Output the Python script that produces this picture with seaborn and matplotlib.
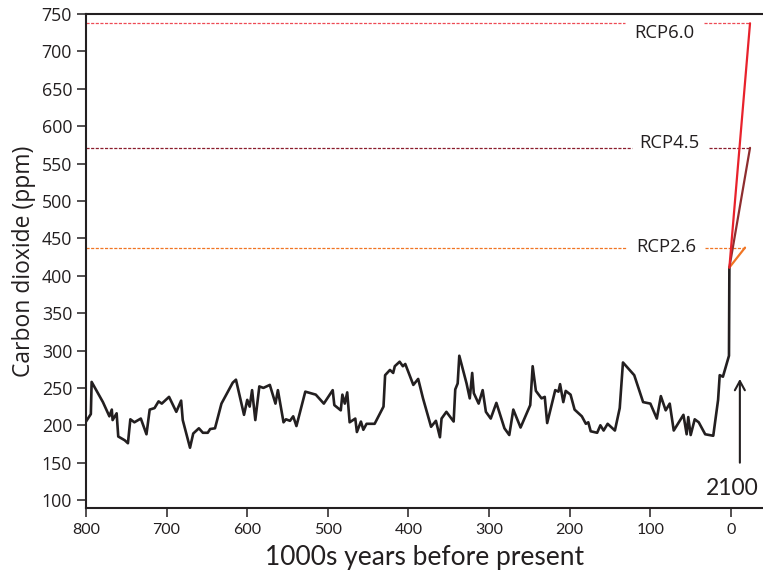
import numpy as np
import pandas as pd
import matplotlib
matplotlib.use("Agg")
import matplotlib.pyplot as plt
import seaborn as sns

# ---------------- data ----------------
kyr_bp = [800, 794, 793, 779, 771, 768, 767, 762, 760, 752, 748, 745, 740, 732, 725, 721,
          715, 710, 706, 697, 688, 682, 680, 671, 667, 660, 655, 649, 646, 640, 632, 618,
          614, 604, 600, 597, 594, 590, 585, 580, 572, 565, 562, 555, 552, 547, 543, 539,
          528, 515, 505, 494, 492, 484, 482, 479, 476, 473, 466, 464, 459, 456, 452, 442,
          431, 429, 423, 419, 417, 411, 407, 404, 394, 388, 382, 372, 366, 361, 359, 353,
          344, 342, 339, 337, 328, 324, 321, 319, 313, 308, 304, 298, 291, 281, 275, 270,
          261, 249, 246, 242, 235, 231, 228, 218, 214, 212, 208, 205, 199, 194, 185, 180,
          177, 174, 166, 162, 158, 153, 144, 138, 134, 120, 109, 100, 92, 87, 81, 76,
          71, 59, 55, 53, 50, 45, 40, 32, 22, 16, 14, 10, 2.5, 2]
co2_ppm = [205, 215, 258, 231, 212, 221, 207, 216, 185, 180, 176, 208, 204, 209, 188, 221,
           223, 232, 229, 238, 218, 233, 207, 170, 189, 196, 190, 190, 195, 196, 229, 257,
           261, 214, 234, 225, 247, 207, 252, 250, 254, 229, 247, 204, 208, 206, 212, 199,
           245, 241, 229, 247, 227, 220, 241, 229, 244, 204, 209, 191, 205, 194, 202, 202,
           225, 267, 274, 270, 279, 285, 279, 282, 254, 262, 236, 198, 206, 184, 209, 218,
           205, 248, 256, 293, 256, 236, 270, 243, 229, 247, 218, 209, 230, 196, 187, 221,
           197, 227, 279, 246, 236, 238, 203, 247, 245, 255, 231, 246, 241, 221, 212, 202,
           204, 192, 190, 200, 193, 202, 193, 223, 284, 267, 231, 229, 209, 239, 220, 229,
           193, 214, 188, 211, 187, 208, 204, 188, 186, 234, 267, 265, 293, 411]

scenarios = ["RCP2.6", "RCP4.5", "RCP6.0"]
scenario_start_x = 2
scenario_start_y = 411
scenario_end_x = [-17.4, -23.6, -23.6]
scenario_end_y = [437.6, 571, 737.6]
scenario_colors = ["#F07524", "#8E2D2F", "#E8222C"]
dash_colors = ["#F07524", "#8A1C2C", "#EE4A55"]

y_ticks = [100, 150, 200, 250, 300, 350, 400, 450, 500, 550, 600, 650, 700, 750]
x_ticks = [800, 700, 600, 500, 400, 300, 200, 100, 0]

# ---------------- layout constants ----------------
dash_gap_left = [129, 122.8, 131.5]
dash_gap_right = [32.3, 27.3, 33.5]
label_x = [80.6, 76.9, 83.1]
label_y = [439, 577, 724.6]

TXT = "#231F20"
SANS = ["Open Sans", "DejaVu Sans"]
HUM = ["Lato", "DejaVu Sans"]

sns.set_theme(style="white")
plt.rcParams["font.family"] = SANS

fig = plt.figure(figsize=(7.63, 5.80), dpi=100)
ax = fig.add_axes([86 / 763, (580 - 508.3) / 580, 1 - 86 / 763, (508.3 - 14) / 580])

df = pd.DataFrame({"kyr": kyr_bp, "co2": co2_ppm})
sns.lineplot(data=df, x="kyr", y="co2", sort=False, estimator=None,
             color=TXT, linewidth=1.9, ax=ax)

# dashed reference levels and scenario lines
for i, name in enumerate(scenarios):
    yv = scenario_end_y[i]
    seg = pd.DataFrame({"x": [800, dash_gap_left[i]], "y": [yv, yv]})
    sns.lineplot(data=seg, x="x", y="y", sort=False, estimator=None, ax=ax,
                 color=dash_colors[i], linewidth=0.9, linestyle=(0, (2.5, 1.2)))
    seg2 = pd.DataFrame({"x": [dash_gap_right[i], scenario_end_x[i]], "y": [yv, yv]})
    sns.lineplot(data=seg2, x="x", y="y", sort=False, estimator=None, ax=ax,
                 color=dash_colors[i], linewidth=0.9, linestyle=(0, (2.5, 1.2)))
for i in [0, 1, 2]:
    sc = pd.DataFrame({"x": [scenario_start_x, scenario_end_x[i]],
                       "y": [scenario_start_y, scenario_end_y[i]]})
    sns.lineplot(data=sc, x="x", y="y", sort=False, estimator=None, ax=ax,
                 color=scenario_colors[i], linewidth=1.6)
for i, name in enumerate(scenarios):
    ax.text(label_x[i], label_y[i], name, ha="center", va="center",
            fontsize=13.3, color=TXT, family=SANS)

# 2100 arrow
ax.annotate("", xy=(-11, 262), xytext=(-11, 150),
            arrowprops=dict(arrowstyle="->,head_length=0.55,head_width=0.3",
                            color=TXT, lw=1.5, shrinkA=0, shrinkB=0))
ax.text(-1.2, 116, "2100", ha="center", va="center", fontsize=16.5,
        color=TXT, family=HUM)

ax.set_xlim(800, -39.7)
ax.set_ylim(89, 750)
ax.set_xticks(x_ticks)
ax.set_yticks(y_ticks)
ax.set_xticklabels([str(v) for v in x_ticks], family=HUM, fontsize=11.5, color=TXT)
ax.set_yticklabels([str(v) for v in y_ticks], family=SANS, fontsize=12.8, color=TXT)
ax.tick_params(axis="both", direction="out", length=6.5, width=1.1, color=TXT,
               bottom=True, left=True)
ax.tick_params(axis="y", pad=3.5)
ax.tick_params(axis="x", pad=4)

ax.set_xlabel("1000s years before present", family=HUM, fontsize=19, color=TXT, labelpad=6)
ax.set_ylabel("Carbon dioxide (ppm)", family=SANS, fontsize=16.5, color=TXT, labelpad=4)

for s in ["left", "bottom", "top"]:
    ax.spines[s].set_visible(True)
    ax.spines[s].set_color(TXT)
    ax.spines[s].set_linewidth(1.5)
ax.spines["right"].set_visible(False)
ax.grid(False)

fig.savefig("out.png", dpi=100)
